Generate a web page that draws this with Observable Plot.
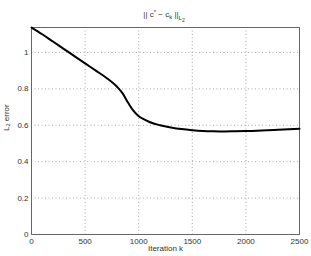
<!DOCTYPE html>
<html>
<head>
<meta charset="utf-8">
<script src="https://cdn.jsdelivr.net/npm/d3@7"></script>
<script src="https://cdn.jsdelivr.net/npm/@observablehq/plot@0.6"></script>
<style>
html,body{margin:0;padding:0;background:#fff;}
#chart{position:relative;width:311px;height:256px;}
</style>
</head>
<body>
<div id="chart"></div>
<script>
const iterations = [0,100,200,300,400,500,600,700,800,850,900,950,1000,1050,1100,1200,1300,1400,1500,1600,1700,1800,1900,2000,2100,2200,2300,2400,2500];
const errors = [1.137,1.10,1.06,1.02,0.98,0.94,0.90,0.86,0.81,0.775,0.725,0.68,0.65,0.632,0.618,0.600,0.588,0.579,0.573,0.569,0.567,0.566,0.567,0.568,0.570,0.572,0.575,0.578,0.581];
const xTicks = [0,500,1000,1500,2000,2500];
const yTicks = [0,0.2,0.4,0.6,0.8,1];
const xLabel = "Iteration k";
const yLabel = "L₂ error";

const data = iterations.map((k,i)=>({k, e: errors[i]}));

const plot = Plot.plot({
  width: 311, height: 256,
  marginLeft: 31, marginRight: 12, marginTop: 27, marginBottom: 22,
  x: {domain: [0, 2500]},
  y: {domain: [0, 1.137]},
  style: {fontFamily: "'Liberation Sans', Arial, sans-serif", fontSize: "8px", color: "#333", background: "#fff"},
  marks: [
    Plot.gridX(xTicks.slice(1,-1), {stroke: "#aaa", strokeOpacity: 1, strokeDasharray: "1,2.5"}),
    Plot.gridY(yTicks.slice(1), {stroke: "#aaa", strokeOpacity: 1, strokeDasharray: "1,2.5"}),
    Plot.axisX(xTicks, {tickSize: 0, tickPadding: 4, label: null, fill: "#333", tickFormat: d => String(d)}),
    Plot.axisY(yTicks, {tickSize: 0, tickPadding: 3, label: null, fill: "#333", tickFormat: d => String(d)}),
    Plot.frame({stroke: "#666"}),
    Plot.line(data, {x: "k", y: "e", stroke: "#000", strokeWidth: 2, curve: "monotone-x"}),
    Plot.text([xLabel], {frameAnchor: "bottom", dy: 16, fill: "#333", fontSize: 8}),
    Plot.text([yLabel], {frameAnchor: "left", rotate: -90, dx: -25, fill: "#333", fontSize: 8})
  ]
});
document.getElementById("chart").appendChild(plot);

// Title with super/subscripts
const svg = d3.select(plot);
const t = svg.append("text")
  .attr("x", 164).attr("y", 17)
  .attr("text-anchor", "middle")
  .attr("fill", "#333")
  .style("font-family", "'Liberation Sans', Arial, sans-serif")
  .style("font-size", "8px");
t.append("tspan").text("|| c");
t.append("tspan").attr("dy", -3).style("font-size", "6px").text("*");
t.append("tspan").attr("dy", 3).text(" − c");
t.append("tspan").attr("dy", 2).style("font-size", "6px").text("k");
t.append("tspan").attr("dy", -2).text(" ||");
t.append("tspan").attr("dy", 3).style("font-size", "6px").text("L");
t.append("tspan").attr("dy", 2).style("font-size", "5px").text("2");
</script>
</body>
</html>
